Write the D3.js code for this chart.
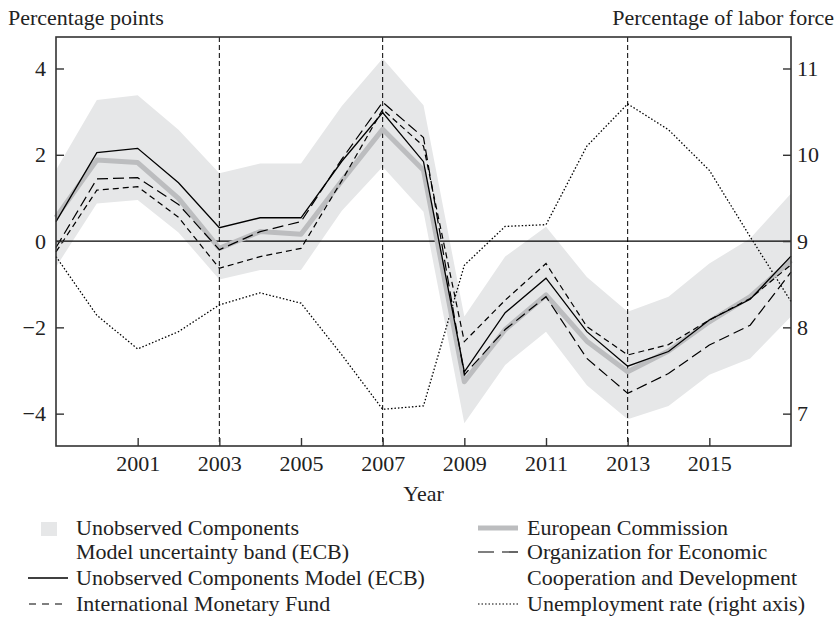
<!DOCTYPE html>
<html>
<head>
<meta charset="utf-8">
<script src="https://cdn.jsdelivr.net/npm/d3@7"></script>
<style>
  body { margin: 0; background: #fff; }
  svg { font-family: "Liberation Serif", "Times New Roman", serif; }
</style>
</head>
<body>
<div id="chart"></div>
<script>
var years = [1999, 2000, 2001, 2002, 2003, 2004, 2005, 2006, 2007, 2008,
             2009, 2010, 2011, 2012, 2013, 2014, 2015, 2016, 2017];

// output gap estimates, percentage points
var ucm  = [0.45, 2.05, 2.15, 1.35, 0.31, 0.54, 0.54, 1.85, 2.98, 1.84,
            -3.03, -1.66, -0.86, -2.10, -2.90, -2.56, -1.83, -1.35, -0.35];
var ec   = [0.55, 1.88, 1.82, 0.99, -0.17, 0.22, 0.16, 1.40, 2.59, 1.64,
            -3.26, -2.05, -1.25, -2.32, -3.03, -2.55, -1.87, -1.29, -0.45];
var oecd = [-0.15, 1.44, 1.47, 0.85, -0.20, 0.22, 0.45, 1.90, 3.22, 2.40,
            -3.10, -2.05, -1.29, -2.72, -3.53, -3.07, -2.41, -1.95, -0.72];
var imf  = [-0.25, 1.18, 1.26, 0.55, -0.63, -0.36, -0.17, 1.40, 3.05, 2.20,
            -2.33, -1.37, -0.52, -1.98, -2.64, -2.40, -1.83, -1.33, -0.55];
var bandHi = [1.65, 3.27, 3.38, 2.58, 1.57, 1.80, 1.80, 3.13, 4.23, 3.15,
              -1.75, -0.36, 0.33, -0.83, -1.64, -1.29, -0.52, 0.06, 1.10];
var bandLo = [-0.60, 0.87, 0.95, 0.20, -0.89, -0.67, -0.67, 0.70, 1.72, 0.68,
              -4.22, -2.87, -2.10, -3.34, -4.13, -3.82, -3.10, -2.72, -1.75];

// unemployment rate, percentage of labor force (right axis)
var unemp = [8.82, 8.14, 7.75, 7.95, 8.26, 8.40, 8.28, 7.68, 7.05, 7.09,
             8.72, 9.17, 9.19, 10.10, 10.59, 10.29, 9.82, 9.05, 8.30];

var xTicks = [2001, 2003, 2005, 2007, 2009, 2011, 2013, 2015];
var leftTicks = [-4, -2, 0, 2, 4];
var rightTicks = [7, 8, 9, 10, 11];
var markYears = [2003, 2007, 2013];

var W = 840, H = 620;
var pl = 56, pr = 791, pt = 37, pb = 446;
var bandColor = "#e6e7e8";
var ecColor = "#bcbdbf";
var fs = 22;

var svg = d3.select("#chart").append("svg")
    .attr("width", W).attr("height", H);

var x = d3.scaleLinear().domain([1999, 2017]).range([pl, pr]);
var y = d3.scaleLinear().domain([-4.75, 4.73]).range([pb, pt]);
var yR = d3.scaleLinear().domain([9 - 4.75 / 2, 9 + 4.73 / 2]).range([pb, pt]);

function series(vals, scale) {
  return d3.line()
    .x(function(d, i) { return x(years[i]); })
    .y(function(d) { return scale(d); })(vals);
}

// uncertainty band
var area = d3.area()
    .x(function(d, i) { return x(years[i]); })
    .y0(function(d, i) { return y(bandLo[i]); })
    .y1(function(d, i) { return y(bandHi[i]); });
svg.append("path").attr("d", area(years)).attr("fill", bandColor);

// zero line
svg.append("line")
    .attr("x1", pl).attr("x2", pr)
    .attr("y1", y(0)).attr("y2", y(0))
    .attr("stroke", "#000").attr("stroke-width", 1.2);

// vertical markers
svg.selectAll(".mark").data(markYears).enter().append("line")
    .attr("x1", function(d) { return x(d); })
    .attr("x2", function(d) { return x(d); })
    .attr("y1", pt).attr("y2", pb)
    .attr("stroke", "#000").attr("stroke-width", 1)
    .attr("stroke-dasharray", "5,3");

svg.append("path").attr("d", series(unemp, yR))
    .attr("fill", "none").attr("stroke", "#000").attr("stroke-width", 1.3)
    .attr("stroke-dasharray", "1.5,2");
svg.append("path").attr("d", series(ec, y))
    .attr("fill", "none").attr("stroke", ecColor).attr("stroke-width", 5)
    .attr("stroke-linejoin", "round");
svg.append("path").attr("d", series(imf, y))
    .attr("fill", "none").attr("stroke", "#000").attr("stroke-width", 1.2)
    .attr("stroke-dasharray", "6,4");
svg.append("path").attr("d", series(oecd, y))
    .attr("fill", "none").attr("stroke", "#000").attr("stroke-width", 1.2)
    .attr("stroke-dasharray", "11,5");
svg.append("path").attr("d", series(ucm, y))
    .attr("fill", "none").attr("stroke", "#000").attr("stroke-width", 1.3);

// frame
svg.append("rect")
    .attr("x", pl).attr("y", pt)
    .attr("width", pr - pl).attr("height", pb - pt)
    .attr("fill", "none").attr("stroke", "#333").attr("stroke-width", 1.6);

// axes, ticks pointing inward
var gL = svg.append("g").attr("transform", "translate(" + pl + ",0)")
    .call(d3.axisLeft(y).tickValues(leftTicks).tickSizeInner(-8).tickSizeOuter(0).tickPadding(10));
var gR = svg.append("g").attr("transform", "translate(" + pr + ",0)")
    .call(d3.axisRight(yR).tickValues(rightTicks).tickFormat(d3.format("d"))
      .tickSizeInner(-8).tickSizeOuter(0).tickPadding(6));
var gB = svg.append("g").attr("transform", "translate(0," + pb + ")")
    .call(d3.axisBottom(x).tickValues(xTicks).tickFormat(d3.format("d"))
      .tickSizeInner(-8).tickSizeOuter(0).tickPadding(9));

[gL, gR, gB].forEach(function(g) {
  g.select(".domain").remove();
  g.selectAll(".tick line").attr("stroke", "#333").attr("stroke-width", 1.4);
  g.selectAll(".tick text")
    .attr("font-family", "Liberation Serif, serif")
    .attr("font-size", fs).attr("fill", "#222");
});

svg.append("text").attr("x", 8).attr("y", 25)
    .attr("font-size", fs).attr("fill", "#222").text("Percentage points");
svg.append("text").attr("x", 834).attr("y", 25).attr("text-anchor", "end")
    .attr("font-size", fs).attr("fill", "#222").text("Percentage of labor force");
svg.append("text").attr("x", (pl + pr) / 2).attr("y", 501).attr("text-anchor", "middle")
    .attr("font-size", fs).attr("fill", "#222").text("Year");

// legend
var lg = svg.append("g").attr("font-size", fs).attr("fill", "#222");
lg.append("rect").attr("x", 41).attr("y", 522).attr("width", 16).attr("height", 14)
    .attr("fill", bandColor);
lg.append("text").attr("x", 76).attr("y", 535).text("Unobserved Components");
lg.append("text").attr("x", 76).attr("y", 559).text("Model uncertainty band (ECB)");
lg.append("line").attr("x1", 28).attr("x2", 68).attr("y1", 578).attr("y2", 578)
    .attr("stroke", "#000").attr("stroke-width", 1.3);
lg.append("text").attr("x", 76).attr("y", 585).text("Unobserved Components Model (ECB)");
lg.append("line").attr("x1", 29).attr("x2", 68).attr("y1", 604).attr("y2", 604)
    .attr("stroke", "#000").attr("stroke-width", 1.2).attr("stroke-dasharray", "7,6");
lg.append("text").attr("x", 76).attr("y", 611).text("International Monetary Fund");

lg.append("line").attr("x1", 478).attr("x2", 518).attr("y1", 528).attr("y2", 528)
    .attr("stroke", ecColor).attr("stroke-width", 5);
lg.append("text").attr("x", 527).attr("y", 535).text("European Commission");
lg.append("line").attr("x1", 478).attr("x2", 518).attr("y1", 552).attr("y2", 552)
    .attr("stroke", "#000").attr("stroke-width", 1.2).attr("stroke-dasharray", "16,8");
lg.append("text").attr("x", 527).attr("y", 559).text("Organization for Economic");
lg.append("text").attr("x", 527).attr("y", 585).text("Cooperation and Development");
lg.append("line").attr("x1", 478).attr("x2", 518).attr("y1", 604).attr("y2", 604)
    .attr("stroke", "#000").attr("stroke-width", 1.1).attr("stroke-dasharray", "1.5,2");
lg.append("text").attr("x", 527).attr("y", 611).text("Unemployment rate (right axis)");
</script>
</body>
</html>
